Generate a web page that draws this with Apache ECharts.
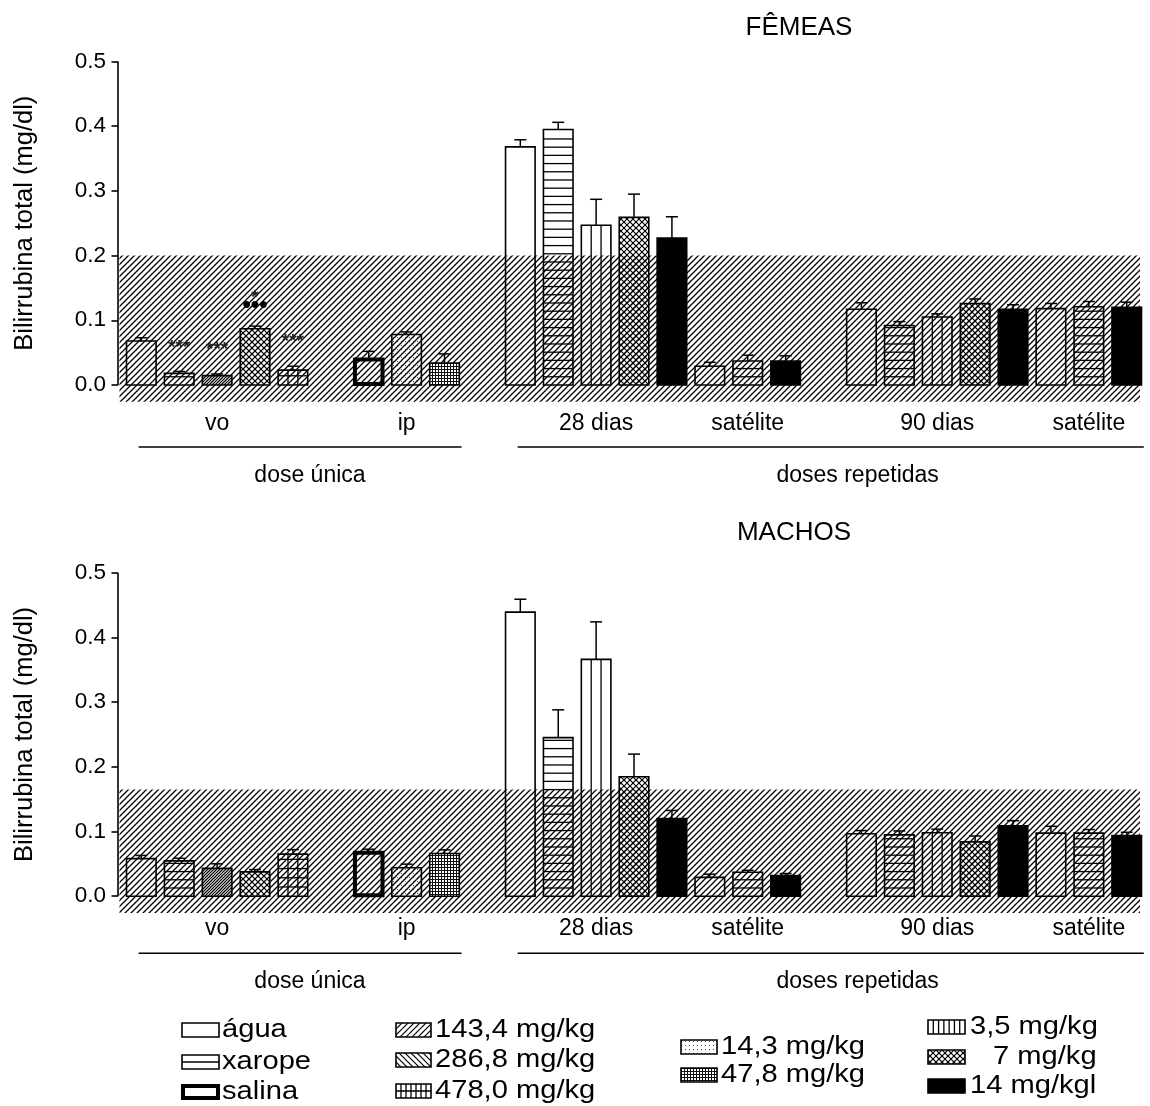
<!DOCTYPE html>
<html><head><meta charset="utf-8">
<script src="https://cdn.jsdelivr.net/npm/echarts@6/dist/echarts.min.js"></script>
<style>html,body{margin:0;padding:0;background:#fff}#c{width:1150px;height:1106px}</style>
</head><body><div id="c"></div>
<script>
// ---------------- DATA ----------------
const slotTreatments = ['água','xarope','143,4 mg/kg','286,8 mg/kg','478,0 mg/kg', null,
  'salina','14,3 mg/kg','47,8 mg/kg', null,
  'água','xarope','3,5 mg/kg','7 mg/kg','14 mg/kgl',
  'água','xarope','14 mg/kgl', null,
  'água','xarope','3,5 mg/kg','7 mg/kg','14 mg/kgl',
  'água','xarope','14 mg/kgl'];
const femaleMeans = [0.068,0.018,0.0145,0.087,0.023, null, 0.041,0.078,0.034, null,
  0.368,0.395,0.247,0.259,0.227, 0.029,0.037,0.037, null,
  0.117,0.092,0.105,0.126,0.117, 0.118,0.121,0.120];
const femaleSem = [0.005,0.003,0.0025,0.004,0.006, null, 0.011,0.004,0.014, null,
  0.011,0.011,0.040,0.036,0.033, 0.006,0.009,0.008, null,
  0.010,0.006,0.005,0.007,0.007, 0.008,0.008,0.008];
const maleMeans = [0.058,0.0546,0.043,0.0376,0.065, null, 0.0686,0.044,0.066, null,
  0.439,0.245,0.366,0.1846,0.120, 0.029,0.037,0.032, null,
  0.0964,0.0948,0.098,0.084,0.1087, 0.0974,0.0974,0.0938];
const maleSem = [0.005,0.004,0.007,0.0035,0.007, null, 0.004,0.0055,0.0056, null,
  0.020,0.043,0.058,0.035,0.0125, 0.005,0.003,0.003, null,
  0.005,0.006,0.0056,0.009,0.008, 0.0106,0.0056,0.005];
const femaleMarks = [[],['***'],['***'],['•••','*'],['***'],[],[],[],[],[],
  [],[],[],[],[],[],[],[],[],[],[],[],[],[],[],[],[]];
const maleMarks = slotTreatments.map(() => []);
const femaleRefMax = 0.2;
const maleRefMax = 0.165;
const yTickValues = [0, 0.1, 0.2, 0.3, 0.4, 0.5];
const subgroupLabels = ['vo','ip','28 dias','satélite','90 dias','satélite'];
const subgroupFirst = [0, 6, 10, 15, 19, 24];
const subgroupLast  = [4, 8, 14, 17, 23, 26];
const groupLabels = ['dose única','doses repetidas'];
const groupFirst = [0, 10];
const groupLast  = [8, 26];
const panelTitles = ['FÊMEAS','MACHOS'];
const yAxisTitle = 'Bilirrubina total (mg/dl)';
const legendColumns = [['água','xarope','salina'],
  ['143,4 mg/kg','286,8 mg/kg','478,0 mg/kg'],
  ['14,3 mg/kg','47,8 mg/kg'],
  ['3,5 mg/kg','7 mg/kg','14 mg/kgl']];

// ---------------- STYLE ----------------
const FONT = '"Liberation Sans", Arial, sans-serif';
function tile(w, h, draw) {
  const c = document.createElement('canvas'); c.width = w; c.height = h;
  const g = c.getContext('2d'); draw(g, w, h); return c;
}
function segs(g, list, lw, col) {
  g.strokeStyle = col || '#000'; g.lineWidth = lw; g.beginPath();
  list.forEach(s => { g.moveTo(s[0], s[1]); g.lineTo(s[2], s[3]); }); g.stroke();
}
const FWD0 = [[-1,1,1,-1],[-1,7,7,-1],[5,7,7,5]];
const BACK0 = [[-1,-1,7,7],[5,-1,7,1],[-1,5,1,7]];
const bandTile = tile(6, 6, g => segs(g, FWD0, 1.3));
const fwdTile  = tile(6, 6, g => segs(g, [[-1,4,4,-1],[2,7,7,2]], 1.2));
const backTile = tile(6, 6, g => segs(g, BACK0, 1.2));
const crossTile = tile(6, 6, g => { segs(g, FWD0, 1.2); segs(g, BACK0, 1.2); });
const sparseDotTile = tile(4, 4, g => { g.fillStyle = '#444'; g.fillRect(1, 1, 1, 1); });
const denseDotTile = tile(3, 3, g => { g.fillStyle = '#fff'; g.fillRect(0,0,3,3);
  g.fillStyle = '#111'; g.fillRect(0, 0, 3, 1); g.fillRect(0, 0, 1, 3); });

const TREAT = {
  'água': {kind: 'plain'},
  'xarope': {kind: 'hlines'},
  'salina': {kind: 'thick'},
  '143,4 mg/kg': {kind: 'tile', tile: fwdTile},
  '286,8 mg/kg': {kind: 'tile', tile: backTile},
  '478,0 mg/kg': {kind: 'grid'},
  '14,3 mg/kg': {kind: 'tile', tile: sparseDotTile},
  '47,8 mg/kg': {kind: 'tile', tile: denseDotTile},
  '3,5 mg/kg': {kind: 'vlines'},
  '7 mg/kg': {kind: 'tile', tile: crossTile},
  '14 mg/kgl': {kind: 'solid'}
};

function ln(x1, y1, x2, y2, lw) {
  return {type: 'line', shape: {x1, y1, x2, y2}, style: {stroke: '#000', lineWidth: lw || 1.3}};
}
function txt(x, y, text, font, align, extra) {
  return Object.assign({type: 'text', x, y, style: {text, fill: '#000', font,
    align: align, verticalAlign: 'middle', textAlign: align, textVerticalAlign: 'middle'}}, extra || {});
}
function swatch(x, y, w, h, name, legend) {
  const st = TREAT[name];
  const kids = [];
  let fill = null;
  if (st.kind === 'solid') fill = '#000';
  else if (st.kind === 'tile') fill = {image: st.tile, repeat: 'repeat'};
  if (fill) kids.push({type: 'rect', shape: {x, y, width: w, height: h}, style: {fill: fill, stroke: null}});
  if (st.kind === 'hlines' || st.kind === 'grid') {
    const step = legend ? h / 2 : (st.kind === 'grid' ? 9.2 : 8.2);
    for (let yy = y + h - step; yy > y + 1.5; yy -= step) kids.push(ln(x, yy, x + w, yy));
  }
  if (st.kind === 'vlines' || st.kind === 'grid') {
    const n = legend ? 7 : 3;
    for (let k = 1; k < n; k++) kids.push(ln(x + w * k / n, y, x + w * k / n, y + h));
  }
  const lw = st.kind === 'thick' ? 4 : 1.6;
  const ins = st.kind === 'thick' ? 1 : 0;
  kids.push({type: 'rect', shape: {x: x + ins, y: y + ins, width: w - 2 * ins, height: h - 2 * ins},
    style: {fill: null, stroke: '#000', lineWidth: lw}});
  return kids;
}

function barRender(marks) {
  return function (params, api) {
    const slot = api.value(0), m = api.value(1), s = api.value(2);
    const p0 = api.coord([slot, 0]), p1 = api.coord([slot, m]), pc = api.coord([slot, m + s]);
    const w = api.size([1, 0])[0] * 0.78;
    const kids = swatch(p0[0] - w / 2, p1[1], w, p0[1] - p1[1], slotTreatments[slot], false);
    kids.push(ln(p0[0], p1[1], p0[0], pc[1], 1.5));
    kids.push(ln(p0[0] - 6, pc[1], p0[0] + 6, pc[1], 1.5));
    const lines = marks[slot] || [];
    lines.forEach((t, k) => {
      const isStar = t.indexOf('*') >= 0;
      const cy = pc[1] - 21 - 11 * k + (isStar ? 4 : 0) - (lines.length === 1 ? 7 : 0);
      kids.push({type: 'text', x: p0[0], y: cy,
        style: {text: t, fill: isStar ? '#222' : '#000',
        font: (isStar ? 'bold 19px ' : 'bold 24px ') + FONT,
        align: 'center', verticalAlign: 'middle', textAlign: 'center', textVerticalAlign: 'middle'}});
    });
    return {type: 'group', children: kids};
  };
}
function bandRender(params, api) {
  const cs = params.coordSys;
  const top = api.coord([0, api.value(1)])[1];
  return {type: 'rect', shape: {x: cs.x + 1.5, y: top, width: cs.width - 1.5, height: cs.y + cs.height - top},
    style: {fill: {image: bandTile, repeat: 'repeat'}, stroke: null}};
}
const groupLabelAt = [4.45, 18.9]; // layout: horizontal centre of each group caption, in slot units
function decorRender(off) {
  return function (params, api) {
    const cs = params.coordSys;
    const z0 = api.coord([0, 0])[1];
    const kids = [];
    kids.push(ln(cs.x, z0, cs.x, api.coord([0, 0.5])[1], 1.6));
    kids.push(txt(25, api.coord([0, 0.25])[1], yAxisTitle, '25.5px ' + FONT, 'center', {rotation: Math.PI / 2}));
    groupLabels.forEach((g, i) => {
      const xa = api.coord([groupFirst[i] - 0.07, 0])[0], xb = api.coord([groupLast[i] + 0.45, 0])[0];
      kids.push(ln(xa, z0 + off[1], xb, z0 + off[1], 1.6));
      kids.push(txt(api.coord([groupLabelAt[i], 0])[0], z0 + off[2], g, '23px ' + FONT, 'center'));
    });
    return {type: 'group', children: kids};
  };
}

const subCenters = subgroupFirst.map((f, i) => (f + subgroupLast[i]) / 2);
const panels = [
  {means: femaleMeans, sem: femaleSem, marks: femaleMarks, ref: femaleRefMax, top: 61.5, labelMargin: 10, off: [0, 62, 91]},
  {means: maleMeans, sem: maleSem, marks: maleMarks, ref: maleRefMax, top: 572.7, labelMargin: 4, off: [0, 57, 85]}
];
const grids = [], xAxes = [], yAxes = [], series = [];
panels.forEach((p, i) => {
  grids.push({left: 118, width: 1022, top: p.top, height: 340.3});
  xAxes.push({type: 'value', gridIndex: i, min: -0.615, max: 26.35,
    axisLine: {show: false, onZero: false}, axisTick: {show: false}, splitLine: {show: false},
    axisLabel: {customValues: subCenters, margin: p.labelMargin, color: '#000', fontSize: 23, fontFamily: FONT,
      formatter: v => subgroupLabels[subCenters.indexOf(v)] || ''}});
  yAxes.push({type: 'value', gridIndex: i, min: -0.026, max: 0.5,
    axisLine: {show: false, onZero: false}, splitLine: {show: false},
    axisTick: {show: true, customValues: yTickValues, length: 6.5, inside: false, lineStyle: {color: '#000', width: 1.6}},
    axisLabel: {customValues: yTickValues, margin: 12, color: '#000', fontSize: 22.5, fontFamily: FONT,
      formatter: v => v.toFixed(1)}});
  series.push({type: 'custom', xAxisIndex: i, yAxisIndex: i, data: [[0, p.ref]], renderItem: bandRender, z: 1, silent: true});
  series.push({type: 'custom', xAxisIndex: i, yAxisIndex: i, clip: false, z: 3,
    data: p.means.map((v, k) => v == null ? null : [k, v, p.sem[k]]).filter(d => d),
    renderItem: barRender(p.marks)});
  series.push({type: 'custom', xAxisIndex: i, yAxisIndex: i, clip: false, z: 4, silent: true,
    data: [[0, 0]], renderItem: decorRender(p.off)});
});

// legend + titles (layout via graphic)
const legendLayout = [
  {sx: 182, sw: 37, tx: 222, ys: [1030, 1062, 1092]},
  {sx: 396, sw: 35, tx: 435, ys: [1030, 1060, 1091]},
  {sx: 681, sw: 36, tx: 721, ys: [1047, 1075]},
  {sx: 928, sw: 37, tx: 970, ys: [1027, 1057, 1086]}
];
const graphics = [];
panelTitles.forEach((t, i) => graphics.push(txt(i === 0 ? 799 : 794, i === 0 ? 28 : 533, t, '26px ' + FONT, 'center')));
legendColumns.forEach((col, c) => {
  const L = legendLayout[c];
  col.forEach((name, r) => {
    const cy = L.ys[r];
    graphics.push({type: 'group', children: swatch(L.sx, cy - 7, L.sw, 14, name, true)});
    const pad = name === '7 mg/kg' ? 23 : 0;
    graphics.push(txt(L.tx + pad, cy, name, '26px ' + FONT, 'left', {scaleX: 1.12}));
  });
});

const chart = echarts.init(document.getElementById('c'), null, {renderer: 'canvas', width: 1150, height: 1106});
chart.setOption({
  animation: false, backgroundColor: '#fff',
  grid: grids, xAxis: xAxes, yAxis: yAxes, series: series, graphic: graphics
});
</script></body></html>
